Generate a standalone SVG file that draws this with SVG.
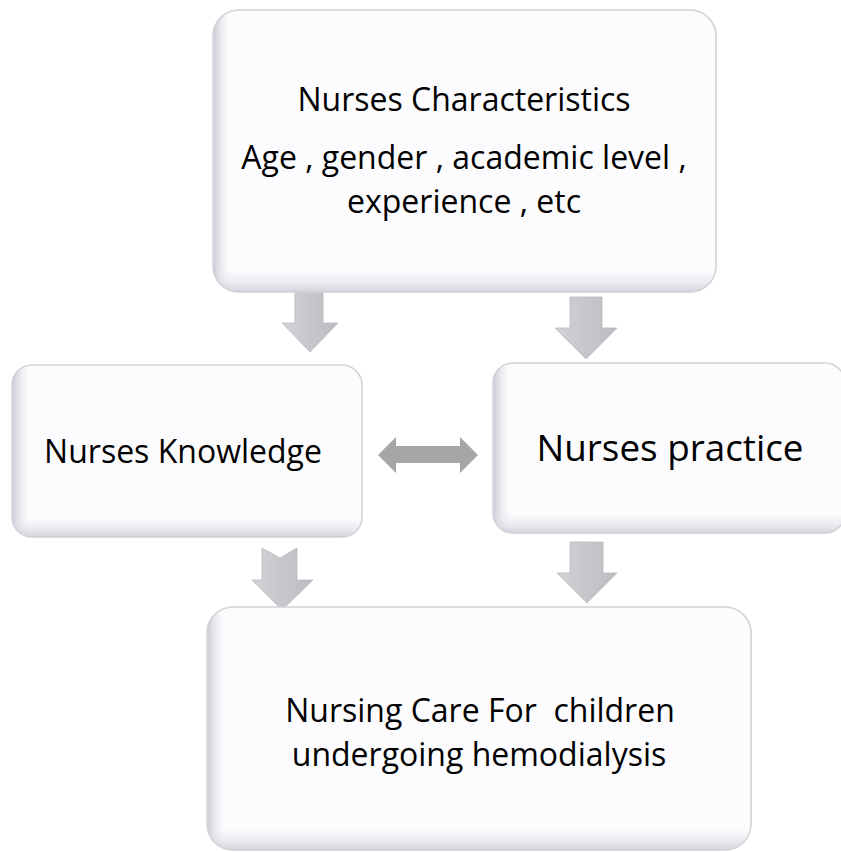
<svg xmlns="http://www.w3.org/2000/svg" width="841" height="852" viewBox="0 0 841 852">
  <style>
    .box { fill: #fcfcfe; stroke: #d2d2d7; stroke-width: 1.6; }
    .lbl { font-family: "Open Sans", "Noto Sans", "Liberation Sans", sans-serif; fill: #000; text-anchor: middle; }
    .arrow { fill: url(#arrowFill); stroke: #b9b9bf; stroke-width: 0.8; }
    .dbl { fill: #a6a6a6; }
  </style>
  <defs>
    <linearGradient id="shadeL" x1="0" y1="0" x2="1" y2="0">
      <stop offset="0" stop-color="#c9c9d2" stop-opacity="0.9"/>
      <stop offset="1" stop-color="#e6e6ee" stop-opacity="0"/>
    </linearGradient>
    <linearGradient id="shadeB" x1="0" y1="0" x2="0" y2="1">
      <stop offset="0" stop-color="#e6e6ee" stop-opacity="0"/>
      <stop offset="1" stop-color="#cfcfd8" stop-opacity="0.9"/>
    </linearGradient>
    <linearGradient id="arrowFill" x1="0" y1="0" x2="1" y2="0">
      <stop offset="0" stop-color="#d3d3d7"/>
      <stop offset="0.5" stop-color="#c6c6cb"/>
      <stop offset="1" stop-color="#bcbcc2"/>
    </linearGradient>
    <clipPath id="clipTop"><rect x="213" y="10" width="503" height="282" rx="26"/></clipPath>
    <clipPath id="clipKnow"><rect x="12" y="365" width="350" height="172" rx="20"/></clipPath>
    <clipPath id="clipPrac"><rect x="493" y="363" width="352" height="170" rx="20"/></clipPath>
    <clipPath id="clipCare"><rect x="207" y="607" width="544" height="243" rx="26"/></clipPath>
  </defs>

  <rect width="841" height="852" fill="#ffffff"/>

  <!-- connectors: block arrows between the boxes -->
  <g id="connectors">
    <polygon class="arrow" points="295,290 323,290 323,323 338,323 310,352 282,323 295,323"/>
    <polygon class="arrow" points="570,297 602,297 602,328 617,328 586,359 555,328 570,328"/>
    <polygon class="arrow" points="262,548 280,558 297,548 297,580 313,580 282,610 252,580 262,580"/>
    <polygon class="arrow" points="570,542 603,542 603,573 617,573 587,603 557,573 570,573"/>
    <polygon class="dbl" points="378,455 396,437 396,446 460,446 460,437 478,455 460,473 460,463 396,463 396,473"/>
  </g>

  <!-- Nurses characteristics -->
  <g id="node-characteristics">
    <rect class="box" x="213" y="10" width="503" height="282" rx="26"/>
    <g clip-path="url(#clipTop)">
      <rect x="214" y="10" width="16" height="282" fill="url(#shadeL)"/>
      <rect x="213" y="270" width="503" height="22" fill="url(#shadeB)"/>
    </g>
    <text class="lbl" x="464" y="111" font-size="32">Nurses Characteristics</text>
    <text class="lbl" x="464" y="169" font-size="32">Age , gender , academic level ,</text>
    <text class="lbl" x="464" y="213" font-size="32">experience , etc</text>
  </g>

  <!-- Nurses knowledge -->
  <g id="node-knowledge">
    <rect class="box" x="12" y="365" width="350" height="172" rx="20"/>
    <g clip-path="url(#clipKnow)">
      <rect x="13" y="365" width="16" height="172" fill="url(#shadeL)"/>
      <rect x="12" y="517" width="350" height="20" fill="url(#shadeB)"/>
    </g>
    <text class="lbl" x="183" y="463" font-size="32">Nurses Knowledge</text>
  </g>

  <!-- Nurses practice -->
  <g id="node-practice">
    <rect class="box" x="493" y="363" width="352" height="170" rx="20"/>
    <g clip-path="url(#clipPrac)">
      <rect x="494" y="363" width="16" height="170" fill="url(#shadeL)"/>
      <rect x="493" y="513" width="352" height="20" fill="url(#shadeB)"/>
    </g>
    <text class="lbl" x="670" y="461" font-size="36.8">Nurses practice</text>
  </g>

  <!-- Nursing care -->
  <g id="node-care">
    <rect class="box" x="207" y="607" width="544" height="243" rx="26"/>
    <g clip-path="url(#clipCare)">
      <rect x="208" y="607" width="16" height="243" fill="url(#shadeL)"/>
      <rect x="207" y="828" width="544" height="22" fill="url(#shadeB)"/>
    </g>
    <text class="lbl" x="480" y="722" font-size="32" xml:space="preserve">Nursing Care For  children</text>
    <text class="lbl" x="479" y="766" font-size="32">undergoing hemodialysis</text>
  </g>
</svg>
